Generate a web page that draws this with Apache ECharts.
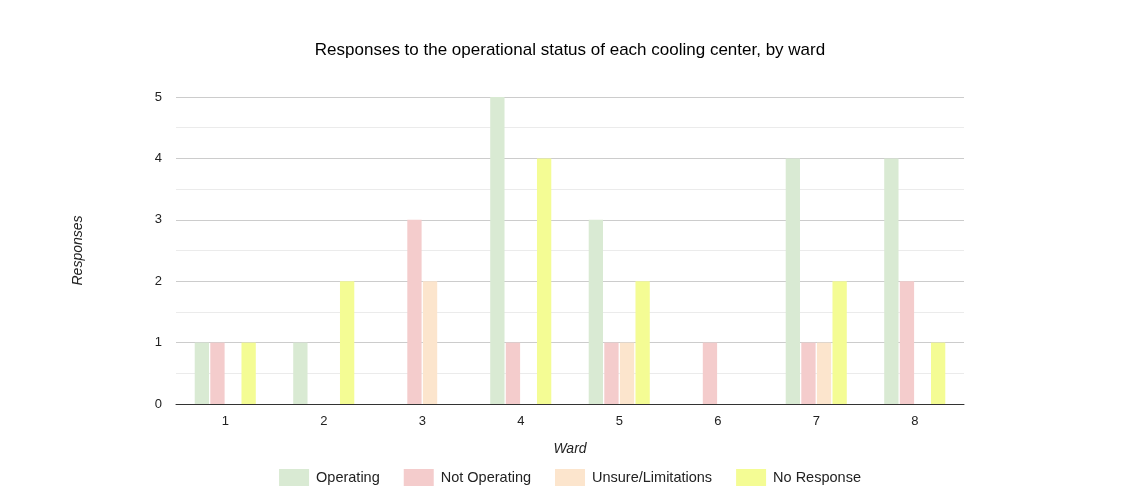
<!DOCTYPE html>
<html>
<head>
<meta charset="utf-8">
<script src="https://cdn.jsdelivr.net/npm/echarts@6/dist/echarts.min.js"></script>
<style>
  html, body { margin: 0; padding: 0; background: #fff; }
  #chart { width: 1140px; height: 500px; }
</style>
</head>
<body>
<div id="chart"></div>
<script>
// wards on the x axis
var wards = ["1", "2", "3", "4", "5", "6", "7", "8"];

// responses per ward, one array per status
var operating = [1, 1, 0, 5, 3, 0, 4, 4];
var notOperating = [1, 0, 3, 1, 1, 1, 1, 2];
var unsure = [0, 0, 2, 0, 1, 0, 1, 0];
var noResponse = [1, 2, 0, 4, 2, 0, 2, 1];

var seriesNames = ["Operating", "Not Operating", "Unsure/Limitations", "No Response"];
var seriesColors = ["#d9ead3", "#f4cccc", "#fce5cd", "#f4fc94"];
var seriesData = [operating, notOperating, unsure, noResponse];

var font = "Liberation Sans, Arial, sans-serif";

var myChart = echarts.init(document.getElementById("chart"));

var series = [];
for (var i = 0; i < seriesNames.length; i++) {
    series.push({
        name: seriesNames[i],
        type: "bar",
        data: seriesData[i],
        itemStyle: { color: seriesColors[i] },
        barGap: "9%",
        barCategoryGap: "38%",
        animation: false
    });
}

var option = {
    backgroundColor: "#fff",
    title: {
        text: "Responses to the operational status of each cooling center, by ward",
        left: "center",
        top: 37,
        textStyle: { fontFamily: font, fontSize: 17, fontWeight: "normal", color: "#000" }
    },
    legend: {
        bottom: 9,
        left: "center",
        itemWidth: 30,
        itemHeight: 17,
        itemGap: 24,
        icon: "rect",
        textStyle: { fontFamily: font, fontSize: 14.5, color: "#222", padding: [0, 0, 0, 2] },
        data: seriesNames
    },
    grid: { left: 176, right: 176, top: 97, bottom: 96 },
    xAxis: {
        type: "category",
        data: wards,
        name: "Ward",
        nameLocation: "middle",
        nameGap: 38,
        nameTextStyle: { fontFamily: font, fontSize: 14, fontStyle: "italic", color: "#222" },
        axisTick: { show: false },
        axisLine: { lineStyle: { color: "#333", width: 1 } },
        axisLabel: { fontFamily: font, fontSize: 13, color: "#222", margin: 11 }
    },
    yAxis: {
        type: "value",
        min: 0,
        max: 5,
        interval: 1,
        name: "Responses",
        nameLocation: "middle",
        nameGap: 91,
        nameTextStyle: { fontFamily: font, fontSize: 14, fontStyle: "italic", color: "#222" },
        axisLabel: { fontFamily: font, fontSize: 13, color: "#222", margin: 14 },
        axisLine: { show: false },
        axisTick: { show: false },
        splitLine: { lineStyle: { color: "#cccccc" } },
        minorTick: { show: false, splitNumber: 2 },
        minorSplitLine: { show: true, lineStyle: { color: "#ebebeb" } }
    },
    series: series
};

myChart.setOption(option);
</script>
</body>
</html>
